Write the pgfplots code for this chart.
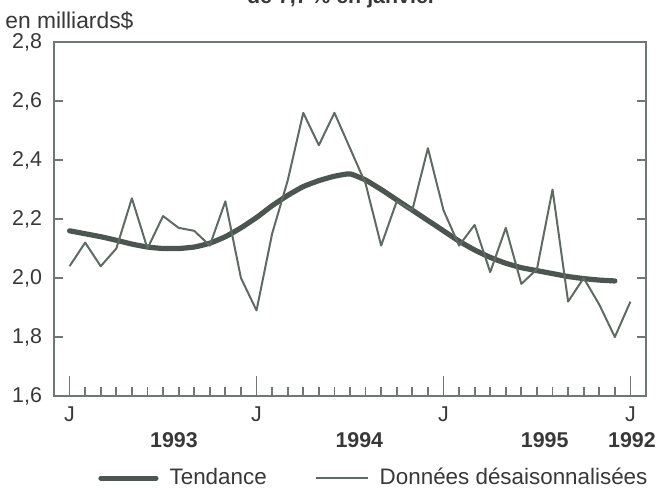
\documentclass[border=0pt]{standalone}
\usepackage{pgfplots}
\pgfplotsset{compat=1.18}
\usepackage{pgfplotstable}
\usepackage{fontspec}
\setmainfont{Liberation Sans}
\definecolor{thinc}{HTML}{5E6B62}
\definecolor{thickc}{HTML}{4B5650}
\definecolor{framec}{HTML}{6E7872}
\definecolor{txt}{HTML}{383838}

\pgfplotstableread{
m v
0 2.04
1 2.12
2 2.04
3 2.10
4 2.27
5 2.10
6 2.21
7 2.17
8 2.16
9 2.11
10 2.26
11 2.00
12 1.89
13 2.15
14 2.33
15 2.56
16 2.45
17 2.56
18 2.44
19 2.32
20 2.11
21 2.26
22 2.23
23 2.44
24 2.23
25 2.11
26 2.18
27 2.02
28 2.17
29 1.98
30 2.03
31 2.30
32 1.92
33 2.00
34 1.91
35 1.80
36 1.92
}\donnees

\pgfplotstableread{
m v
0 2.160
1 2.150
2 2.140
3 2.128
4 2.115
5 2.105
6 2.100
7 2.100
8 2.105
9 2.118
10 2.140
11 2.170
12 2.205
13 2.245
14 2.280
15 2.310
16 2.330
17 2.345
18 2.353
19 2.332
20 2.300
21 2.265
22 2.230
23 2.195
24 2.160
25 2.125
26 2.095
27 2.070
28 2.050
29 2.035
30 2.025
31 2.015
32 2.005
33 1.998
34 1.993
35 1.990
}\tendance

\begin{document}
\begin{tikzpicture}[font=\fontsize{10.7}{12.8}\selectfont]
\begin{axis}[
  scale only axis, width=296pt, height=177pt,
  xmin=-1, xmax=37, ymin=1.6, ymax=2.8,
  axis line style={framec, line width=0.9pt},
  every tick/.style={framec, line width=0.9pt},
  tick align=inside,
  major tick length=10pt, minor tick length=4.3pt,
  xtick={0,12,24,36}, xticklabels={J,J,J,J},
  minor xtick={1,...,35},
  xtick pos=bottom,
  ytick={1.6,1.8,2.0,2.2,2.4,2.6,2.8},
  minor ytick={1.8,2.0,2.2,2.4,2.6},
  major y tick style={draw=none},
  ytick pos=both, yticklabel pos=left,
  /pgf/number format/use comma,
  /pgf/number format/fixed,
  /pgf/number format/fixed zerofill,
  /pgf/number format/precision=1,
  /pgf/number format/assume math mode=true,
  yticklabel style={text=txt, xshift=-2.5pt},
  xticklabel style={text=txt, yshift=-2pt},
  legend style={at={(0.0743,-0.232)}, anchor=west, draw=none, fill=none,
    inner xsep=0pt, legend columns=2, font=\fontsize{11.2}{13.4}\selectfont, text=txt,
    /tikz/every odd column/.append style={column sep=3.5pt},
    /tikz/every even column/.append style={column sep=22pt}},
  legend cell align=left,
  clip=false,
]
\addplot[thickc, line width=2.6pt, line join=round, line cap=round, smooth, tension=0.3,
  legend image code/.code={\draw[thickc, line width=2.6pt] (0pt,0pt) -- (27.5pt,0pt);}]
  table[x=m, y=v] {\tendance};
\addlegendentry{Tendance}
\addplot[thinc, line width=1pt, line join=round,
  legend image code/.code={\draw[thinc, line width=1pt] (0pt,0pt) -- (26pt,0pt);}]
  table[x=m, y=v] {\donnees};
\addlegendentry{Données désaisonnalisées}
\node[text=txt, font=\bfseries\fontsize{10.7}{12.8}\selectfont, yshift=-22pt] at (axis cs:6.7,1.6) {1993};
\node[text=txt, font=\bfseries\fontsize{10.7}{12.8}\selectfont, yshift=-22pt] at (axis cs:18.6,1.6) {1994};
\node[text=txt, font=\bfseries\fontsize{10.7}{12.8}\selectfont, yshift=-22pt] at (axis cs:30.5,1.6) {1995};
\node[text=txt, font=\bfseries\fontsize{10.7}{12.8}\selectfont, yshift=-22pt] at (axis cs:36.1,1.6) {1992};
\node[text=txt, anchor=west, inner sep=0pt, xshift=-24.5pt, yshift=10.5pt, font=\fontsize{11.4}{13.6}\selectfont] at (rel axis cs:0,1) {en milliards\$};
\node[text=txt, anchor=base, inner sep=0pt, font=\bfseries\fontsize{10.7}{12.8}\selectfont, yshift=19.5pt] at (rel axis cs:0.486,1) {de 7,7\,\% en janvier};
\coordinate (ll) at (rel axis cs:0,0);
\coordinate (ur) at (rel axis cs:1,1);
\end{axis}
\pgfresetboundingbox
\path[use as bounding box] ([shift={(-27pt,-46.5pt)}]ll) rectangle ([shift={(6pt,21pt)}]ur);
\end{tikzpicture}
\end{document}
